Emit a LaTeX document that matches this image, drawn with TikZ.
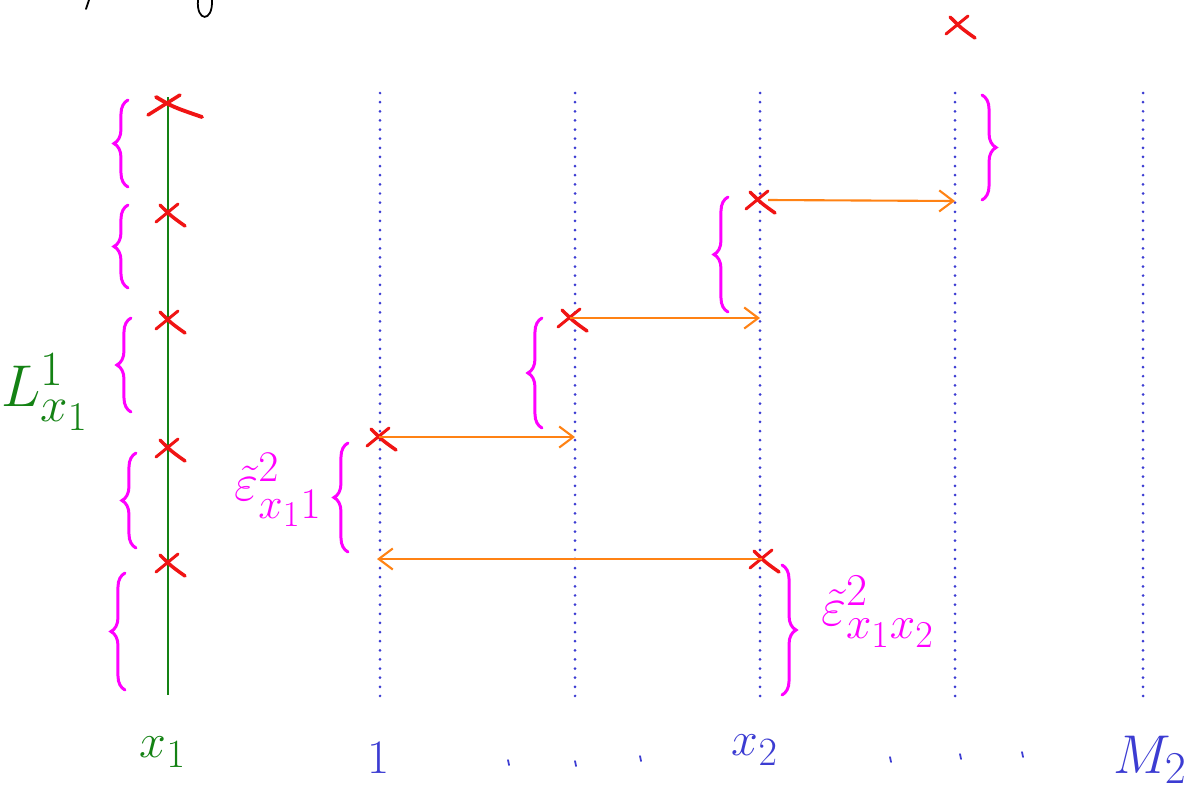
\documentclass[tikz,border=0pt]{standalone}
\usepackage{graphicx}
\usepackage{amsmath}
\usetikzlibrary{arrows.meta,decorations.pathreplacing}
\definecolor{penred}{RGB}{240,20,20}
\definecolor{penmag}{RGB}{255,0,255}
\definecolor{pengreen}{RGB}{20,130,20}
\definecolor{penblue}{RGB}{60,60,210}
\definecolor{penorange}{RGB}{255,130,20}
\tikzset{
  redx/.pic={
    \draw[penred,line width=1.7pt,line cap=round] (-12,9) -- (10,-9);
    \draw[penred,line width=2pt,line cap=round] (-8,-8) .. controls (3,3) .. (17,13);
  },
  bigx/.pic={
    \draw[penred,line width=2pt,line cap=round] (-20,12) -- (12,-8);
    \draw[penred,line width=2.2pt,line cap=round] (-12,-6) .. controls (5,4) .. (34,14);
  },
  lbrace/.style={penmag,line width=1.7pt,line cap=round,decorate,
    decoration={brace,amplitude=8pt,aspect=0.5}},
  gridline/.style={penblue,line width=1.7pt,line cap=round,dash pattern=on 0pt off 5.2pt},
  hop/.style={penorange,line width=1.2pt,-{Straight Barb[length=8pt,width=12pt,line width=1.2pt]}},
  pentext/.style={inner sep=0pt,font=\Huge},
}
\begin{document}
\begin{tikzpicture}[x=0.02cm,y=-0.02cm]
\useasboundingbox (0,0) rectangle (1196,791);

% cut-off black strokes at top
\draw[black,line width=1pt,line cap=round] (89,0) .. controls (87,5) .. (86,9);
\draw[black,line width=1pt,line cap=round] (198,0) .. controls (196,22) and (213,23) .. (212,0);

% green line
\coordinate (gtop) at (168,97);
\coordinate (gbot) at (168,695);
\draw[pengreen,line width=1.5pt] (gtop) -- (gbot);

% dotted grid lines
\foreach \n/\x in {g1/380,g2/575,g3/760,g4/955,g5/1143}{
  \coordinate (\n t) at (\x,93);
  \coordinate (\n b) at (\x,703);
  \draw[gridline] (\n t) -- (\n b);
}

% crosses on green line
\pic at (168,103) {bigx};
\foreach \y in {213,320,448,563}{ \pic at (168,\y) {redx}; }

% crosses on grid
\coordinate (c1) at (379,437);
\coordinate (c2) at (570,318);
\coordinate (c3) at (758,200);
\coordinate (c4) at (762,559);
\coordinate (c5) at (958,25);
\foreach \c in {c1,c2,c3,c4,c5}{ \pic at (\c) {redx}; }

% arrow targets
\coordinate (t1) at (575,437);
\coordinate (t2) at (760,318);
\coordinate (t3) at (955,201);
\coordinate (t4) at (377,559);

\draw[hop] (c1) -- (t1);
\draw[hop] (c2) -- (t2);
\draw[hop] ([xshift=0.2cm]c3) -- (t3);
\draw[hop] (c4) -- (t4);

% braces left of green line
\foreach \x/\a/\b in {128/187/100, 128/288/205, 131/412/318, 136/548/453, 125/690/573}{
  \draw[lbrace] (\x,\a) -- (\x,\b);
}
% braces left of grid crossings
\draw[lbrace] (348,552) -- (348,443);
\draw[lbrace] (542,428) -- (542,318);
\draw[lbrace] (728,312) -- (728,197);
% right braces
\draw[lbrace] (982,95) -- (982,200);
\draw[lbrace] (782,565) -- (782,695);

% labels
\node[pentext,pengreen] (L) at (45,392) {\scalebox{1.35}{$L^{1}_{x_1}$}};
\node[pentext,penmag] (e1) at (278,490) {\scalebox{1.2}{$\tilde{\varepsilon}^{2}_{x_1 1}$}};
\node[pentext,penmag] (e2) at (878,612) {\scalebox{1.25}{$\tilde{\varepsilon}^{2}_{x_1 x_2}$}};

% bottom labels
\node[pentext,pengreen] (bx1) at (163,752) {\scalebox{1.1}{$x_1$}};
\node[pentext,penblue] (b1) at (379,758) {\scalebox{1.1}{$1$}};
\node[pentext,penblue] (bx2) at (755,750) {\scalebox{1.1}{$x_2$}};
\node[pentext,penblue] (bM) at (1150,760) {\scalebox{1.25}{$M_2$}};
\foreach \x/\y in {508/763,575/764,640/759,890/760,960/757,1022/755}{
  \draw[penblue,line width=1pt,line cap=round] (\x,\y-3) -- (\x+1,\y+2);
}
\end{tikzpicture}
\end{document}
